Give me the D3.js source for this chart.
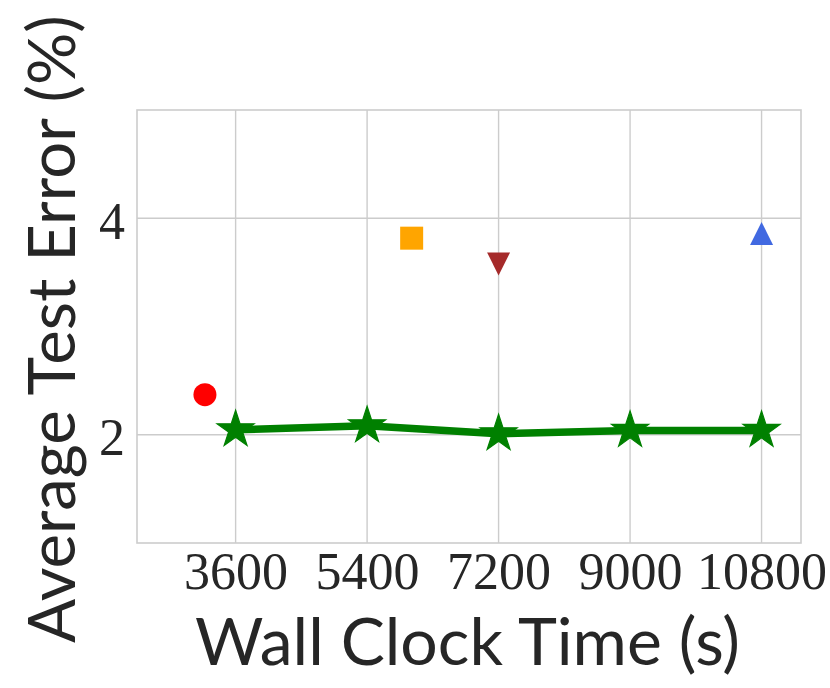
<!DOCTYPE html>
<html>
<head>
<meta charset="utf-8">
<script src="https://cdn.jsdelivr.net/npm/d3@7"></script>
<style>
  html, body { margin: 0; padding: 0; background: #ffffff; }
  svg { display: block; }
</style>
</head>
<body>
<svg id="chart" width="830" height="688"></svg>
<script>
// ---- data ----
const xTicks = [3600, 5400, 7200, 9000, 10800];
const yTicks = [2, 4];
const lineX = [3600, 5400, 7200, 9000, 10800];
const lineY = [2.046, 2.083, 2.009, 2.040, 2.040];
const pointNames = ["circle", "square", "triangleDown", "triangleUp"];
const pointX = [3180, 6010, 7200, 10800];
const pointY = [2.370, 3.816, 3.578, 3.860];
const pointColors = ["#ff0000", "#ffa500", "#a52a2a", "#4169e1"];
const xLabel = "Wall Clock Time (s)";
const yLabel = "Average Test Error (%)";

// ---- layout ----
const svg = d3.select("#chart");
const pLeft = 137, pRight = 801, pTop = 110, pBottom = 543;
const x = d3.scaleLinear().domain([2250, 11340]).range([pLeft, pRight]);
const y = d3.scaleLinear().domain([1, 5]).range([pBottom, pTop]);
const gridColor = "#cccccc";
const textColor = "#262626";

// grid
const g = svg.append("g");
g.selectAll("line.vx").data(xTicks).enter().append("line")
  .attr("x1", d => x(d)).attr("x2", d => x(d))
  .attr("y1", pTop).attr("y2", pBottom)
  .attr("stroke", gridColor).attr("stroke-width", 1.4);
g.selectAll("line.hy").data(yTicks).enter().append("line")
  .attr("x1", pLeft).attr("x2", pRight)
  .attr("y1", d => y(d)).attr("y2", d => y(d))
  .attr("stroke", gridColor).attr("stroke-width", 1.4);
// frame
g.append("rect").attr("x", pLeft).attr("y", pTop)
  .attr("width", pRight - pLeft).attr("height", pBottom - pTop)
  .attr("fill", "none").attr("stroke", gridColor).attr("stroke-width", 1.6);

// axes (tick labels via d3 axes)
const xAxis = svg.append("g").attr("transform", `translate(0,${pBottom})`)
  .call(d3.axisBottom(x).tickValues(xTicks).tickFormat(d3.format("d")).tickSize(0).tickPadding(46));
const yAxis = svg.append("g").attr("transform", `translate(${pLeft},0)`)
  .call(d3.axisLeft(y).tickValues(yTicks).tickFormat(d3.format("d")).tickSize(0).tickPadding(12));
[xAxis, yAxis].forEach(a => {
  a.select(".domain").remove();
  a.selectAll("text")
    .attr("font-family", "'Liberation Serif', 'DejaVu Serif', serif")
    .attr("font-size", 52)
    .attr("fill", textColor);
});
yAxis.selectAll("text").attr("dy", "0.38em");
xAxis.selectAll("text").attr("dy", "0");

// points
function markerPath(kind, r) {
  if (kind === "circle") return d3.symbol().type(d3.symbolCircle).size(Math.PI * r * r)();
  if (kind === "square") return d3.symbol().type(d3.symbolSquare).size(4 * r * r)();
  if (kind === "triangleUp") return `M0,${-r}L${r},${r}L${-r},${r}Z`;
  if (kind === "triangleDown") return `M0,${r}L${r},${-r}L${-r},${-r}Z`;
}
svg.append("g").selectAll("path").data(pointNames).enter().append("path")
  .attr("d", (d) => markerPath(d, 11.5))
  .attr("transform", (d, i) => `translate(${x(pointX[i])},${y(pointY[i])})`)
  .attr("fill", (d, i) => pointColors[i]);

// green line
const lineData = lineX.map((v, i) => [v, lineY[i]]);
svg.append("path").datum(lineData)
  .attr("d", d3.line().x(d => x(d[0])).y(d => y(d[1])))
  .attr("fill", "none").attr("stroke", "#008000").attr("stroke-width", 7.5)
  .attr("stroke-linejoin", "round");
const starR = 19.5;
svg.append("g").selectAll("path").data(lineData).enter().append("path")
  .attr("d", d3.symbol().type(d3.symbolStar).size(starR * starR / 0.8908130915292852)())
  .attr("transform", d => `translate(${x(d[0])},${y(d[1])})`)
  .attr("fill", "#008000").attr("stroke", "#008000").attr("stroke-width", 1.2);

// axis titles
const fitText = (sel, target) => {
  const w = sel.node().getComputedTextLength();
  const fs = parseFloat(sel.attr("font-size"));
  sel.attr("font-size", fs * target / w);
};
const xl = svg.append("text").text(xLabel)
  .attr("x", 195).attr("y", 665)
  .attr("font-family", "Lato, 'Open Sans', sans-serif").attr("font-size", 64)
  .attr("fill", textColor);
fitText(xl, 545);
const yl = svg.append("text").text(yLabel)
  .attr("transform", "translate(75,643) rotate(-90)")
  .attr("font-family", "Lato, 'Open Sans', sans-serif").attr("font-size", 64)
  .attr("fill", textColor);
fitText(yl, 628);
</script>
</body>
</html>
